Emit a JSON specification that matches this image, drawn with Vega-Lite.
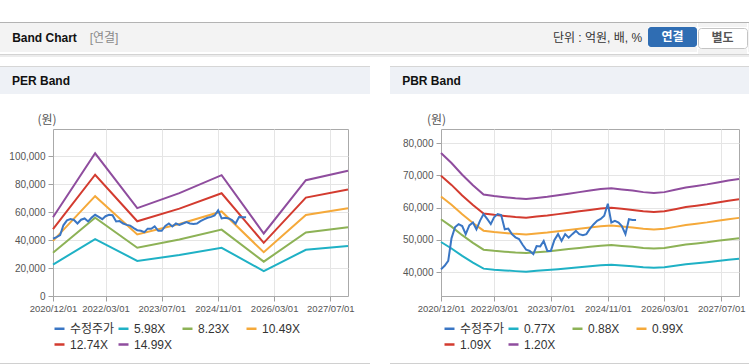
{
  "$schema": "https://vega.github.io/schema/vega-lite/v6.json",
  "background": "white",
  "padding": {"top": 22, "left": 0, "right": 0, "bottom": 0},
  "spacing": 0,
  "config": {
    "view": {"stroke": null},
    "text": {"font": "Liberation Sans, Noto Sans CJK KR", "fontSize": 12},
    "axis": {"labelFont": "Liberation Sans", "labelFontSize": 10, "labelColor": "#555555", "tickColor": "#a0a0a0", "tickSize": 5, "domainColor": "#aaaaaa", "gridColor": "#e5e5e5", "titleFont": "Noto Sans CJK KR", "titleFontWeight": "normal", "titleColor": "#555555", "titleFontSize": 12},
    "axisX": {"labelPadding": 2, "labelFlush": false, "labelOverlap": false, "labelFontSize": 9.5},
    "axisY": {"labelPadding": 3, "titleAngle": 0, "titleAlign": "center", "titleBaseline": "middle", "titleY": -9.5},
    "legend": {"orient": "none", "legendX": 53, "legendY": 256, "direction": "horizontal", "columns": 4, "symbolType": "stroke", "symbolSize": 100, "symbolStrokeWidth": 2.5, "labelFont": "Liberation Sans, Noto Sans CJK KR", "labelFontSize": 12, "labelColor": "#333333", "labelOffset": 4, "columnPadding": -2, "rowPadding": 3, "gridAlign": "all", "padding": 0}
  },
  "resolve": {"scale": {"color": "independent"}, "legend": {"color": "independent"}},
  "datasets": {
    "price": [
      {"d": "2020/12/01", "s": "수정주가", "v": 40900},
      {"d": "2021/01/01", "s": "수정주가", "v": 42000},
      {"d": "2021/02/01", "s": "수정주가", "v": 43500},
      {"d": "2021/03/01", "s": "수정주가", "v": 50500},
      {"d": "2021/04/01", "s": "수정주가", "v": 54000},
      {"d": "2021/05/01", "s": "수정주가", "v": 54900},
      {"d": "2021/06/01", "s": "수정주가", "v": 54300},
      {"d": "2021/07/01", "s": "수정주가", "v": 51800},
      {"d": "2021/08/01", "s": "수정주가", "v": 54500},
      {"d": "2021/09/01", "s": "수정주가", "v": 55400},
      {"d": "2021/10/01", "s": "수정주가", "v": 53300},
      {"d": "2021/11/01", "s": "수정주가", "v": 56000},
      {"d": "2021/12/01", "s": "수정주가", "v": 58000},
      {"d": "2022/01/01", "s": "수정주가", "v": 56500},
      {"d": "2022/02/01", "s": "수정주가", "v": 54900},
      {"d": "2022/03/01", "s": "수정주가", "v": 57000},
      {"d": "2022/04/01", "s": "수정주가", "v": 58000},
      {"d": "2022/05/01", "s": "수정주가", "v": 57700},
      {"d": "2022/06/01", "s": "수정주가", "v": 53300},
      {"d": "2022/07/01", "s": "수정주가", "v": 53500},
      {"d": "2022/08/01", "s": "수정주가", "v": 51800},
      {"d": "2022/09/01", "s": "수정주가", "v": 50800},
      {"d": "2022/10/01", "s": "수정주가", "v": 50300},
      {"d": "2022/11/01", "s": "수정주가", "v": 48500},
      {"d": "2022/12/01", "s": "수정주가", "v": 47000},
      {"d": "2023/01/01", "s": "수정주가", "v": 46600},
      {"d": "2023/02/01", "s": "수정주가", "v": 45600},
      {"d": "2023/03/01", "s": "수정주가", "v": 48100},
      {"d": "2023/04/01", "s": "수정주가", "v": 48000},
      {"d": "2023/05/01", "s": "수정주가", "v": 49700},
      {"d": "2023/06/01", "s": "수정주가", "v": 46600},
      {"d": "2023/07/01", "s": "수정주가", "v": 46600},
      {"d": "2023/08/01", "s": "수정주가", "v": 50000},
      {"d": "2023/09/01", "s": "수정주가", "v": 51800},
      {"d": "2023/10/01", "s": "수정주가", "v": 49700},
      {"d": "2023/11/01", "s": "수정주가", "v": 51800},
      {"d": "2023/12/01", "s": "수정주가", "v": 50700},
      {"d": "2024/01/01", "s": "수정주가", "v": 51800},
      {"d": "2024/02/01", "s": "수정주가", "v": 52800},
      {"d": "2024/03/01", "s": "수정주가", "v": 51800},
      {"d": "2024/04/01", "s": "수정주가", "v": 51500},
      {"d": "2024/05/01", "s": "수정주가", "v": 51800},
      {"d": "2024/06/01", "s": "수정주가", "v": 53500},
      {"d": "2024/07/01", "s": "수정주가", "v": 54800},
      {"d": "2024/08/01", "s": "수정주가", "v": 55900},
      {"d": "2024/09/01", "s": "수정주가", "v": 56500},
      {"d": "2024/10/01", "s": "수정주가", "v": 57500},
      {"d": "2024/11/01", "s": "수정주가", "v": 61200},
      {"d": "2024/12/01", "s": "수정주가", "v": 55400},
      {"d": "2025/01/01", "s": "수정주가", "v": 55900},
      {"d": "2025/02/01", "s": "수정주가", "v": 55400},
      {"d": "2025/03/01", "s": "수정주가", "v": 54300},
      {"d": "2025/04/01", "s": "수정주가", "v": 51800},
      {"d": "2025/05/01", "s": "수정주가", "v": 56400},
      {"d": "2025/06/01", "s": "수정주가", "v": 56200},
      {"d": "2025/07/01", "s": "수정주가", "v": 56200}
    ],
    "per": [
      {"d": "2020/12/01", "s": "5.98X", "v": 22430}, {"d": "2021/12/01", "s": "5.98X", "v": 40660}, {"d": "2022/12/01", "s": "5.98X", "v": 25060}, {"d": "2023/12/01", "s": "5.98X", "v": 29300}, {"d": "2024/12/01", "s": "5.98X", "v": 34440}, {"d": "2025/12/01", "s": "5.98X", "v": 17820}, {"d": "2026/12/01", "s": "5.98X", "v": 33010}, {"d": "2027/12/01", "s": "5.98X", "v": 35700},
      {"d": "2020/12/01", "s": "8.23X", "v": 30860}, {"d": "2021/12/01", "s": "8.23X", "v": 55960}, {"d": "2022/12/01", "s": "8.23X", "v": 34480}, {"d": "2023/12/01", "s": "8.23X", "v": 40330}, {"d": "2024/12/01", "s": "8.23X", "v": 47400}, {"d": "2025/12/01", "s": "8.23X", "v": 24530}, {"d": "2026/12/01", "s": "8.23X", "v": 45430}, {"d": "2027/12/01", "s": "8.23X", "v": 49130},
      {"d": "2020/12/01", "s": "10.49X", "v": 39340}, {"d": "2021/12/01", "s": "10.49X", "v": 71330}, {"d": "2022/12/01", "s": "10.49X", "v": 43950}, {"d": "2023/12/01", "s": "10.49X", "v": 51400}, {"d": "2024/12/01", "s": "10.49X", "v": 60420}, {"d": "2025/12/01", "s": "10.49X", "v": 31260}, {"d": "2026/12/01", "s": "10.49X", "v": 57900}, {"d": "2027/12/01", "s": "10.49X", "v": 62630},
      {"d": "2020/12/01", "s": "12.74X", "v": 47780}, {"d": "2021/12/01", "s": "12.74X", "v": 86630}, {"d": "2022/12/01", "s": "12.74X", "v": 53380}, {"d": "2023/12/01", "s": "12.74X", "v": 62430}, {"d": "2024/12/01", "s": "12.74X", "v": 73380}, {"d": "2025/12/01", "s": "12.74X", "v": 37970}, {"d": "2026/12/01", "s": "12.74X", "v": 70320}, {"d": "2027/12/01", "s": "12.74X", "v": 76060},
      {"d": "2020/12/01", "s": "14.99X", "v": 56210}, {"d": "2021/12/01", "s": "14.99X", "v": 101930}, {"d": "2022/12/01", "s": "14.99X", "v": 62810}, {"d": "2023/12/01", "s": "14.99X", "v": 73450}, {"d": "2024/12/01", "s": "14.99X", "v": 86340}, {"d": "2025/12/01", "s": "14.99X", "v": 44670}, {"d": "2026/12/01", "s": "14.99X", "v": 82740}, {"d": "2027/12/01", "s": "14.99X", "v": 89490}
    ],
    "pbr": [
      {"d": "2020/12/01", "s": "0.77X", "v": 49360}, {"d": "2021/03/01", "s": "0.77X", "v": 47360}, {"d": "2021/06/01", "s": "0.77X", "v": 45050}, {"d": "2021/09/01", "s": "0.77X", "v": 42970}, {"d": "2021/12/01", "s": "0.77X", "v": 41120}, {"d": "2022/03/01", "s": "0.77X", "v": 40810}, {"d": "2022/06/01", "s": "0.77X", "v": 40580}, {"d": "2022/09/01", "s": "0.77X", "v": 40350}, {"d": "2022/12/01", "s": "0.77X", "v": 40190}, {"d": "2023/03/01", "s": "0.77X", "v": 40430}, {"d": "2023/06/01", "s": "0.77X", "v": 40660}, {"d": "2023/09/01", "s": "0.77X", "v": 40960}, {"d": "2023/12/01", "s": "0.77X", "v": 41270}, {"d": "2024/03/01", "s": "0.77X", "v": 41580}, {"d": "2024/06/01", "s": "0.77X", "v": 41890}, {"d": "2024/09/01", "s": "0.77X", "v": 42200}, {"d": "2024/12/01", "s": "0.77X", "v": 42350}, {"d": "2025/03/01", "s": "0.77X", "v": 42120}, {"d": "2025/06/01", "s": "0.77X", "v": 41890}, {"d": "2025/09/01", "s": "0.77X", "v": 41580}, {"d": "2025/12/01", "s": "0.77X", "v": 41430}, {"d": "2026/03/01", "s": "0.77X", "v": 41580}, {"d": "2026/06/01", "s": "0.77X", "v": 42040}, {"d": "2026/09/01", "s": "0.77X", "v": 42500}, {"d": "2026/12/01", "s": "0.77X", "v": 42810}, {"d": "2027/03/01", "s": "0.77X", "v": 43120}, {"d": "2027/06/01", "s": "0.77X", "v": 43510}, {"d": "2027/09/01", "s": "0.77X", "v": 43890}, {"d": "2027/12/01", "s": "0.77X", "v": 44200},
      {"d": "2020/12/01", "s": "0.88X", "v": 56410}, {"d": "2021/03/01", "s": "0.88X", "v": 54120}, {"d": "2021/06/01", "s": "0.88X", "v": 51480}, {"d": "2021/09/01", "s": "0.88X", "v": 49100}, {"d": "2021/12/01", "s": "0.88X", "v": 46990}, {"d": "2022/03/01", "s": "0.88X", "v": 46640}, {"d": "2022/06/01", "s": "0.88X", "v": 46380}, {"d": "2022/09/01", "s": "0.88X", "v": 46110}, {"d": "2022/12/01", "s": "0.88X", "v": 45940}, {"d": "2023/03/01", "s": "0.88X", "v": 46200}, {"d": "2023/06/01", "s": "0.88X", "v": 46460}, {"d": "2023/09/01", "s": "0.88X", "v": 46820}, {"d": "2023/12/01", "s": "0.88X", "v": 47170}, {"d": "2024/03/01", "s": "0.88X", "v": 47520}, {"d": "2024/06/01", "s": "0.88X", "v": 47870}, {"d": "2024/09/01", "s": "0.88X", "v": 48220}, {"d": "2024/12/01", "s": "0.88X", "v": 48400}, {"d": "2025/03/01", "s": "0.88X", "v": 48140}, {"d": "2025/06/01", "s": "0.88X", "v": 47870}, {"d": "2025/09/01", "s": "0.88X", "v": 47520}, {"d": "2025/12/01", "s": "0.88X", "v": 47340}, {"d": "2026/03/01", "s": "0.88X", "v": 47520}, {"d": "2026/06/01", "s": "0.88X", "v": 48050}, {"d": "2026/09/01", "s": "0.88X", "v": 48580}, {"d": "2026/12/01", "s": "0.88X", "v": 48930}, {"d": "2027/03/01", "s": "0.88X", "v": 49280}, {"d": "2027/06/01", "s": "0.88X", "v": 49720}, {"d": "2027/09/01", "s": "0.88X", "v": 50160}, {"d": "2027/12/01", "s": "0.88X", "v": 50510},
      {"d": "2020/12/01", "s": "0.99X", "v": 63460}, {"d": "2021/03/01", "s": "0.99X", "v": 60890}, {"d": "2021/06/01", "s": "0.99X", "v": 57920}, {"d": "2021/09/01", "s": "0.99X", "v": 55240}, {"d": "2021/12/01", "s": "0.99X", "v": 52870}, {"d": "2022/03/01", "s": "0.99X", "v": 52470}, {"d": "2022/06/01", "s": "0.99X", "v": 52170}, {"d": "2022/09/01", "s": "0.99X", "v": 51880}, {"d": "2022/12/01", "s": "0.99X", "v": 51680}, {"d": "2023/03/01", "s": "0.99X", "v": 51980}, {"d": "2023/06/01", "s": "0.99X", "v": 52270}, {"d": "2023/09/01", "s": "0.99X", "v": 52670}, {"d": "2023/12/01", "s": "0.99X", "v": 53060}, {"d": "2024/03/01", "s": "0.99X", "v": 53460}, {"d": "2024/06/01", "s": "0.99X", "v": 53860}, {"d": "2024/09/01", "s": "0.99X", "v": 54250}, {"d": "2024/12/01", "s": "0.99X", "v": 54450}, {"d": "2025/03/01", "s": "0.99X", "v": 54150}, {"d": "2025/06/01", "s": "0.99X", "v": 53860}, {"d": "2025/09/01", "s": "0.99X", "v": 53460}, {"d": "2025/12/01", "s": "0.99X", "v": 53260}, {"d": "2026/03/01", "s": "0.99X", "v": 53460}, {"d": "2026/06/01", "s": "0.99X", "v": 54050}, {"d": "2026/09/01", "s": "0.99X", "v": 54650}, {"d": "2026/12/01", "s": "0.99X", "v": 55040}, {"d": "2027/03/01", "s": "0.99X", "v": 55440}, {"d": "2027/06/01", "s": "0.99X", "v": 55940}, {"d": "2027/09/01", "s": "0.99X", "v": 56430}, {"d": "2027/12/01", "s": "0.99X", "v": 56830},
      {"d": "2020/12/01", "s": "1.09X", "v": 69870}, {"d": "2021/03/01", "s": "1.09X", "v": 67040}, {"d": "2021/06/01", "s": "1.09X", "v": 63770}, {"d": "2021/09/01", "s": "1.09X", "v": 60820}, {"d": "2021/12/01", "s": "1.09X", "v": 58210}, {"d": "2022/03/01", "s": "1.09X", "v": 57770}, {"d": "2022/06/01", "s": "1.09X", "v": 57440}, {"d": "2022/09/01", "s": "1.09X", "v": 57120}, {"d": "2022/12/01", "s": "1.09X", "v": 56900}, {"d": "2023/03/01", "s": "1.09X", "v": 57230}, {"d": "2023/06/01", "s": "1.09X", "v": 57550}, {"d": "2023/09/01", "s": "1.09X", "v": 57990}, {"d": "2023/12/01", "s": "1.09X", "v": 58420}, {"d": "2024/03/01", "s": "1.09X", "v": 58860}, {"d": "2024/06/01", "s": "1.09X", "v": 59300}, {"d": "2024/09/01", "s": "1.09X", "v": 59730}, {"d": "2024/12/01", "s": "1.09X", "v": 59950}, {"d": "2025/03/01", "s": "1.09X", "v": 59620}, {"d": "2025/06/01", "s": "1.09X", "v": 59300}, {"d": "2025/09/01", "s": "1.09X", "v": 58860}, {"d": "2025/12/01", "s": "1.09X", "v": 58640}, {"d": "2026/03/01", "s": "1.09X", "v": 58860}, {"d": "2026/06/01", "s": "1.09X", "v": 59510}, {"d": "2026/09/01", "s": "1.09X", "v": 60170}, {"d": "2026/12/01", "s": "1.09X", "v": 60600}, {"d": "2027/03/01", "s": "1.09X", "v": 61040}, {"d": "2027/06/01", "s": "1.09X", "v": 61590}, {"d": "2027/09/01", "s": "1.09X", "v": 62130}, {"d": "2027/12/01", "s": "1.09X", "v": 62570},
      {"d": "2020/12/01", "s": "1.20X", "v": 76920}, {"d": "2021/03/01", "s": "1.20X", "v": 73800}, {"d": "2021/06/01", "s": "1.20X", "v": 70200}, {"d": "2021/09/01", "s": "1.20X", "v": 66960}, {"d": "2021/12/01", "s": "1.20X", "v": 64080}, {"d": "2022/03/01", "s": "1.20X", "v": 63600}, {"d": "2022/06/01", "s": "1.20X", "v": 63240}, {"d": "2022/09/01", "s": "1.20X", "v": 62880}, {"d": "2022/12/01", "s": "1.20X", "v": 62640}, {"d": "2023/03/01", "s": "1.20X", "v": 63000}, {"d": "2023/06/01", "s": "1.20X", "v": 63360}, {"d": "2023/09/01", "s": "1.20X", "v": 63840}, {"d": "2023/12/01", "s": "1.20X", "v": 64320}, {"d": "2024/03/01", "s": "1.20X", "v": 64800}, {"d": "2024/06/01", "s": "1.20X", "v": 65280}, {"d": "2024/09/01", "s": "1.20X", "v": 65760}, {"d": "2024/12/01", "s": "1.20X", "v": 66000}, {"d": "2025/03/01", "s": "1.20X", "v": 65640}, {"d": "2025/06/01", "s": "1.20X", "v": 65280}, {"d": "2025/09/01", "s": "1.20X", "v": 64800}, {"d": "2025/12/01", "s": "1.20X", "v": 64560}, {"d": "2026/03/01", "s": "1.20X", "v": 64800}, {"d": "2026/06/01", "s": "1.20X", "v": 65520}, {"d": "2026/09/01", "s": "1.20X", "v": 66240}, {"d": "2026/12/01", "s": "1.20X", "v": 66720}, {"d": "2027/03/01", "s": "1.20X", "v": 67200}, {"d": "2027/06/01", "s": "1.20X", "v": 67800}, {"d": "2027/09/01", "s": "1.20X", "v": 68400}, {"d": "2027/12/01", "s": "1.20X", "v": 68880}
    ]
  },
  "vconcat": [
    {"width": 749, "height": 1, "data": {"values": [{}]}, "mark": {"type": "text", "text": "", "fontSize": 0}, "encoding": {}, "view": {"fill": "#b3b3b3"}},
    {
      "spacing": 0,
      "hconcat": [
        {"width": 89, "height": 29, "data": {"values": [{"t": "Band Chart"}]}, "mark": {"type": "text", "fontWeight": "bold", "color": "#111111"}, "encoding": {"text": {"field": "t"}}, "view": {"fill": "#f3f3f3"}},
        {"width": 30, "height": 29, "data": {"values": [{"t": "[연결]"}]}, "mark": {"type": "text", "color": "#8a8a8a"}, "encoding": {"text": {"field": "t"}}, "view": {"fill": "#f3f3f3"}},
        {"width": 428, "height": 29, "data": {"values": [{}]}, "mark": {"type": "text", "text": "", "fontSize": 0}, "encoding": {}, "view": {"fill": "#f3f3f3"}},
        {"width": 101, "height": 29, "data": {"values": [{"t": "단위 : 억원, 배, %"}]}, "mark": {"type": "text", "color": "#333333"}, "encoding": {"text": {"field": "t"}}, "view": {"fill": "#f3f3f3"}},
        {
          "spacing": 0,
          "vconcat": [
            {"width": 49, "height": 4, "data": {"values": [{}]}, "mark": {"type": "text", "text": "", "fontSize": 0}, "encoding": {}, "view": {"fill": "#f3f3f3"}},
            {"width": 49, "height": 20, "data": {"values": [{"t": "연결"}]}, "mark": {"type": "text", "fontWeight": "bold", "color": "#ffffff"}, "encoding": {"text": {"field": "t"}}, "view": {"fill": "#2f6db3", "cornerRadius": 3}},
            {"width": 49, "height": 5, "data": {"values": [{}]}, "mark": {"type": "text", "text": "", "fontSize": 0}, "encoding": {}, "view": {"fill": "#f3f3f3"}}
          ]
        },
        {
          "spacing": 0,
          "vconcat": [
            {"width": 49, "height": 4, "data": {"values": [{}]}, "mark": {"type": "text", "text": "", "fontSize": 0}, "encoding": {}, "view": {"fill": "#f3f3f3"}},
            {"width": 49, "height": 20, "data": {"values": [{"t": "별도"}]}, "mark": {"type": "text", "fontWeight": "bold", "color": "#555555"}, "encoding": {"text": {"field": "t"}}, "view": {"fill": "#ffffff", "stroke": "#c4c4c4", "cornerRadius": 3}},
            {"width": 49, "height": 5, "data": {"values": [{}]}, "mark": {"type": "text", "text": "", "fontSize": 0}, "encoding": {}, "view": {"fill": "#f3f3f3"}}
          ]
        },
        {"width": 3, "height": 29, "data": {"values": [{}]}, "mark": {"type": "text", "text": "", "fontSize": 0}, "encoding": {}, "view": {"fill": "#f3f3f3"}}
      ]
    },
    {"width": 749, "height": 1, "data": {"values": [{}]}, "mark": {"type": "text", "text": "", "fontSize": 0}, "encoding": {}, "view": {"fill": "#d3d3d3"}},
    {"width": 749, "height": 2, "data": {"values": [{}]}, "mark": {"type": "text", "text": "", "fontSize": 0}, "encoding": {}, "view": {"fill": "#ececec"}},
    {"width": 749, "height": 9, "data": {"values": [{}]}, "mark": {"type": "text", "text": "", "fontSize": 0}, "encoding": {}},
    {
      "spacing": 20,
      "resolve": {"scale": {"color": "independent"}, "legend": {"color": "independent"}},
      "hconcat": [
        {
          "spacing": 0,
          "vconcat": [
            {"width": 370, "height": 1, "data": {"values": [{}]}, "mark": {"type": "text", "text": "", "fontSize": 0}, "encoding": {}, "view": {"fill": "#d6d6d6"}},
            {
              "spacing": 0,
              "hconcat": [
                {"width": 82, "height": 27, "data": {"values": [{"t": "PER Band"}]}, "mark": {"type": "text", "fontWeight": "bold", "color": "#111111"}, "encoding": {"text": {"field": "t"}}, "view": {"fill": "#eef1f6"}},
                {"width": 288, "height": 27, "data": {"values": [{}]}, "mark": {"type": "text", "text": "", "fontSize": 0}, "encoding": {}, "view": {"fill": "#eef1f6"}}
              ]
            },
            {"width": 370, "height": 18.5, "data": {"values": [{}]}, "mark": {"type": "text", "text": "", "fontSize": 0}, "encoding": {}},
            {
              "spacing": 0,
              "hconcat": [
                {"width": 8, "height": 1, "data": {"values": [{}]}, "mark": {"type": "text", "text": "", "fontSize": 0}, "encoding": {}},
                {
                  "width": 295,
                  "height": 167,
                  "view": {"stroke": "#aaaaaa"},
                  "encoding": {
                    "x": {"field": "d", "type": "temporal", "scale": {"domain": [{"year": 2020, "month": 12, "date": 1}, {"year": 2027, "month": 12, "date": 1}]}, "axis": {"title": null, "format": "%Y/%m/%d", "values": [{"year": 2020, "month": 12, "date": 1}, {"year": 2022, "month": 3, "date": 1}, {"year": 2023, "month": 7, "date": 1}, {"year": 2024, "month": 11, "date": 1}, {"year": 2026, "month": 3, "date": 1}, {"year": 2027, "month": 7, "date": 1}]}},
                    "y": {"field": "v", "type": "quantitative", "scale": {"domain": [0, 119300], "nice": false}, "axis": {"title": "(원)", "titleX": -6.5, "format": ",.0f", "values": [0, 20000, 40000, 60000, 80000, 100000]}},
                    "color": {"field": "s", "type": "nominal", "scale": {"domain": ["수정주가", "5.98X", "8.23X", "10.49X", "12.74X", "14.99X"], "range": ["#3a76c4", "#1fb1c5", "#8db256", "#f5a93a", "#d33b2f", "#8f4d9e"]}, "legend": {"title": null}}
                  },
                  "layer": [
                    {"data": {"name": "per"}, "mark": {"type": "line", "strokeWidth": 2}},
                    {"data": {"name": "price"}, "mark": {"type": "line", "strokeWidth": 2}}
                  ]
                }
              ]
            },
            {"width": 370, "height": 50, "data": {"values": [{}]}, "mark": {"type": "text", "text": "", "fontSize": 0}, "encoding": {}},
            {"width": 370, "height": 1, "data": {"values": [{}]}, "mark": {"type": "text", "text": "", "fontSize": 0}, "encoding": {}, "view": {"fill": "#d0d0d0"}}
          ]
        },
        {
          "spacing": 0,
          "vconcat": [
            {"width": 359, "height": 1, "data": {"values": [{}]}, "mark": {"type": "text", "text": "", "fontSize": 0}, "encoding": {}, "view": {"fill": "#d6d6d6"}},
            {
              "spacing": 0,
              "hconcat": [
                {"width": 83, "height": 27, "data": {"values": [{"t": "PBR Band"}]}, "mark": {"type": "text", "fontWeight": "bold", "color": "#111111"}, "encoding": {"text": {"field": "t"}}, "view": {"fill": "#eef1f6"}},
                {"width": 276, "height": 27, "data": {"values": [{}]}, "mark": {"type": "text", "text": "", "fontSize": 0}, "encoding": {}, "view": {"fill": "#eef1f6"}}
              ]
            },
            {"width": 359, "height": 18.5, "data": {"values": [{}]}, "mark": {"type": "text", "text": "", "fontSize": 0}, "encoding": {}},
            {
              "spacing": 0,
              "hconcat": [
                {"width": 11, "height": 1, "data": {"values": [{}]}, "mark": {"type": "text", "text": "", "fontSize": 0}, "encoding": {}},
                {
                  "width": 298,
                  "height": 167,
                  "view": {"stroke": "#aaaaaa"},
                  "encoding": {
                    "x": {"field": "d", "type": "temporal", "scale": {"domain": [{"year": 2020, "month": 12, "date": 1}, {"year": 2027, "month": 12, "date": 1}]}, "axis": {"title": null, "format": "%Y/%m/%d", "values": [{"year": 2020, "month": 12, "date": 1}, {"year": 2022, "month": 3, "date": 1}, {"year": 2023, "month": 7, "date": 1}, {"year": 2024, "month": 11, "date": 1}, {"year": 2026, "month": 3, "date": 1}, {"year": 2027, "month": 7, "date": 1}]}},
                    "y": {"field": "v", "type": "quantitative", "scale": {"domain": [32650, 84340], "nice": false, "zero": false}, "axis": {"title": "(원)", "titleX": -5, "format": ",.0f", "values": [40000, 50000, 60000, 70000, 80000]}},
                    "color": {"field": "s", "type": "nominal", "scale": {"domain": ["수정주가", "0.77X", "0.88X", "0.99X", "1.09X", "1.20X"], "range": ["#3a76c4", "#1fb1c5", "#8db256", "#f5a93a", "#d33b2f", "#8f4d9e"]}, "legend": {"title": null}}
                  },
                  "layer": [
                    {"data": {"name": "pbr"}, "mark": {"type": "line", "strokeWidth": 2}},
                    {"data": {"name": "price"}, "mark": {"type": "line", "strokeWidth": 2}}
                  ]
                }
              ]
            },
            {"width": 359, "height": 50, "data": {"values": [{}]}, "mark": {"type": "text", "text": "", "fontSize": 0}, "encoding": {}},
            {"width": 359, "height": 1, "data": {"values": [{}]}, "mark": {"type": "text", "text": "", "fontSize": 0}, "encoding": {}, "view": {"fill": "#d0d0d0"}}
          ]
        }
      ]
    }
  ]
}
